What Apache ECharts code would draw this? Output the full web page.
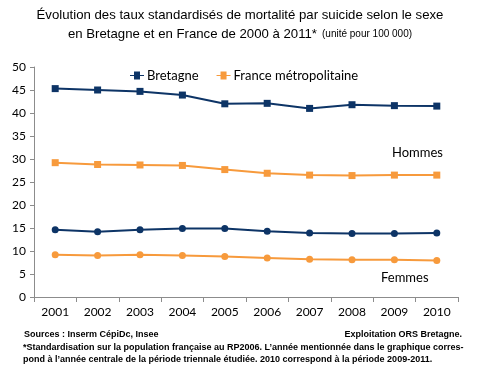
<!DOCTYPE html>
<html><head><meta charset="utf-8">
<script src="https://cdn.jsdelivr.net/npm/echarts@6/dist/echarts.min.js"></script>
<style>html,body{margin:0;padding:0;background:#fff}#c{width:480px;height:380px}</style>
</head><body><div id="c"></div>
<script>
const years = ['2001','2002','2003','2004','2005','2006','2007','2008','2009','2010'];
const bretagneHommes = [45.3,45.0,44.7,43.9,42.0,42.1,41.0,41.8,41.6,41.5];
const franceHommes   = [29.2,28.8,28.7,28.6,27.7,26.9,26.5,26.4,26.5,26.5];
const bretagneFemmes = [14.6,14.2,14.6,14.9,14.9,14.3,13.9,13.8,13.8,13.9];
const franceFemmes   = [9.2,9.0,9.2,9.0,8.8,8.5,8.2,8.1,8.1,7.95];
const yTicks = {min:0, max:50, interval:5};

const BLUE = '#0d3466', ORANGE = '#f79a3c';
const chart = echarts.init(document.getElementById('c'), null, {renderer:'canvas'});
const lineS = (name, data, color, symbol) => ({
  name, type:'line', data, symbol, symbolSize: 7,
  itemStyle:{color}, lineStyle:{color, width:2}, animation:false
});
const legIcon = 'path://M0,3.5L4,3.5L4,0L10,0L10,3.5L14,3.5L14,4.5L10,4.5L10,8L4,8L4,4.5L0,4.5Z';
chart.setOption({
  animation:false,
  title:{
    text:'{a|Évolution des taux standardisés de mortalité par suicide selon le sexe}\n{a|en Bretagne et en France de 2000 à 2011*} {b|(unité pour 100 000)}',
    left:'center', top:1,
    textStyle:{fontWeight:'normal', rich:{
      a:{fontFamily:'Liberation Sans', fontSize:13.2, fontWeight:'normal', color:'#000', lineHeight:19},
      b:{fontFamily:'Liberation Sans', fontSize:10, fontWeight:'normal', color:'#000', lineHeight:19}
    }}
  },
  legend:{
    top:64, left:125, itemGap:18, itemWidth:14, itemHeight:8,
    textStyle:{fontFamily:'Lato', fontSize:13, color:'#000', padding:[0,0,0,-2]},
    data:[{name:'Bretagne', icon:legIcon},{name:'France métropolitaine', icon:legIcon}]
  },
  grid:{left:34, right:22, top:67, bottom:83, containLabel:false},
  xAxis:{
    type:'category', data:years, boundaryGap:true,
    axisLine:{lineStyle:{color:'#8c8c8c'}},
    axisTick:{show:true, length:5, lineStyle:{color:'#8c8c8c'}},
    axisLabel:{fontFamily:'Lato', fontSize:12, color:'#000', margin:9}
  },
  yAxis:{
    type:'value', min:yTicks.min, max:yTicks.max, interval:yTicks.interval,
    splitLine:{show:false},
    axisLine:{show:true, lineStyle:{color:'#8c8c8c'}},
    axisTick:{show:true, length:4, lineStyle:{color:'#8c8c8c'}},
    axisLabel:{fontFamily:'Lato', fontSize:12, color:'#000', margin:8}
  },
  series:[
    lineS('Bretagne', bretagneHommes, BLUE, 'rect'),
    lineS('France métropolitaine', franceHommes, ORANGE, 'rect'),
    lineS('Bretagne', bretagneFemmes, BLUE, 'circle'),
    lineS('France métropolitaine', franceFemmes, ORANGE, 'circle')
  ],
  graphic:[
    {type:'text', left:392, top:146, style:{text:'Hommes', font:'13px Lato', fill:'#000'}},
    {type:'text', left:381, top:271, style:{text:'Femmes', font:'13px Lato', fill:'#000'}},
    {type:'text', left:24, top:330, style:{text:'Sources : Inserm CépiDc, Insee', font:'bold 9px Liberation Sans', fill:'#000'}},
    {type:'text', right:18, top:330, style:{text:'Exploitation ORS Bretagne.', font:'bold 9px Liberation Sans', fill:'#000'}},
    {type:'text', left:23, top:342, style:{text:'*Standardisation sur la population française au RP2006. L’année mentionnée dans le graphique corres-\npond à l’année centrale de la période triennale étudiée. 2010 correspond à la période 2009-2011.', font:'bold 9px Liberation Sans', fill:'#000', lineHeight:12}}
  ]
});
</script></body></html>
